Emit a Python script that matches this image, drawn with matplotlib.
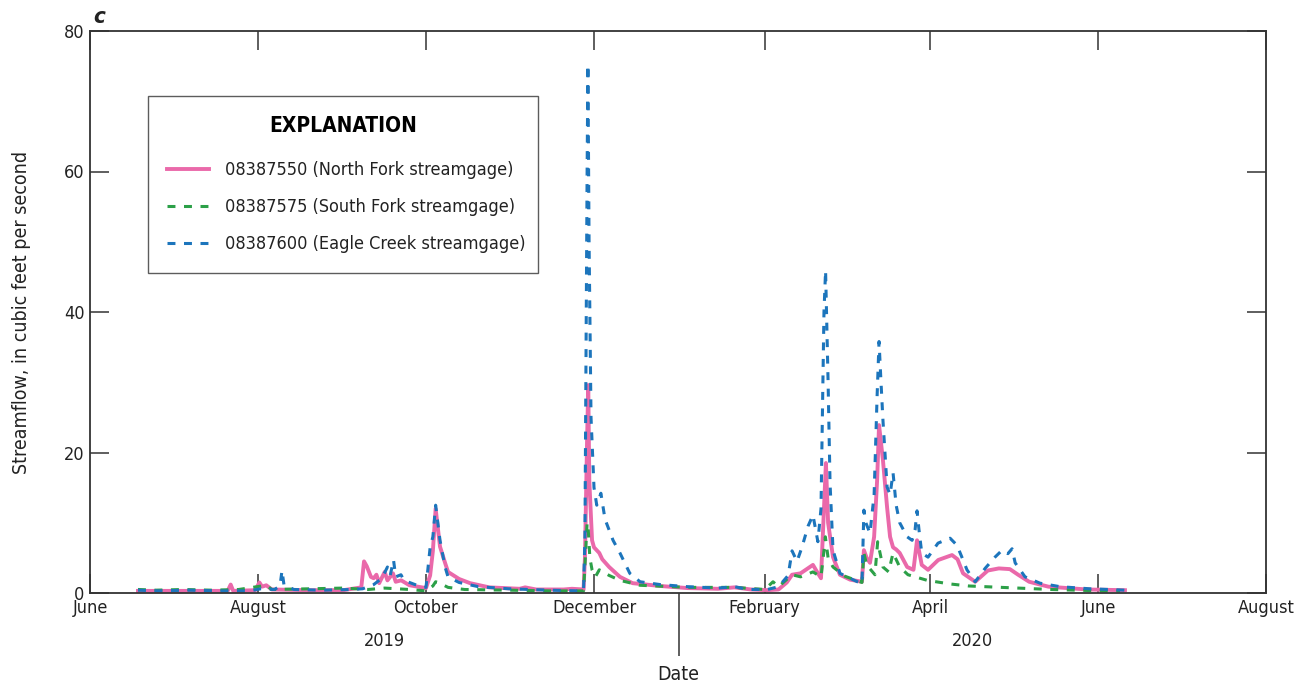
import numpy as np
import pandas as pd
import matplotlib
matplotlib.use("Agg")
import matplotlib.pyplot as plt

plt.rcParams['font.family'] = ['DejaVu Sans']
plt.rcParams['font.stretch'] = 'condensed'

# North Fork streamgage 08387550
north_dates = ["2019-06-18 10:00", "2019-06-30", "2019-07-12", "2019-07-21", "2019-07-22 02:00", "2019-07-23",
               "2019-07-31", "2019-08-01 12:00", "2019-08-02 12:00", "2019-08-04", "2019-08-06", "2019-08-20",
               "2019-09-01", "2019-09-07 12:00", "2019-09-08 12:00", "2019-09-09 12:00", "2019-09-11", "2019-09-12",
               "2019-09-13", "2019-09-14", "2019-09-16", "2019-09-17", "2019-09-19", "2019-09-20", "2019-09-22",
               "2019-09-25", "2019-10-01", "2019-10-02 12:00", "2019-10-03 12:00", "2019-10-04 12:00",
               "2019-10-06 02:00", "2019-10-07 22:00", "2019-10-09", "2019-10-13", "2019-10-17", "2019-10-24",
               "2019-11-04", "2019-11-06", "2019-11-10", "2019-11-20", "2019-11-23", "2019-11-27 05:00",
               "2019-11-27 17:00", "2019-11-28 12:00", "2019-11-28 22:00", "2019-11-29 07:00", "2019-11-30 07:00",
               "2019-12-01", "2019-12-02 22:00", "2019-12-04", "2019-12-06 12:00", "2019-12-10 10:00", "2019-12-15",
               "2019-12-25", "2020-01-04", "2020-01-15", "2020-01-21", "2020-01-27", "2020-02-02", "2020-02-06",
               "2020-02-09", "2020-02-10 22:00", "2020-02-14", "2020-02-17", "2020-02-18 12:00", "2020-02-20",
               "2020-02-21 10:00", "2020-02-22 12:00", "2020-02-23 05:00", "2020-02-24", "2020-02-25 19:00",
               "2020-02-28 07:00", "2020-03-03", "2020-03-07 07:00", "2020-03-08", "2020-03-09", "2020-03-10 05:00",
               "2020-03-11 17:00", "2020-03-12 19:00", "2020-03-13 12:00", "2020-03-14 22:00", "2020-03-16 10:00",
               "2020-03-17 12:00", "2020-03-18 14:00", "2020-03-19 17:00", "2020-03-21", "2020-03-23 17:00",
               "2020-03-26", "2020-03-27 07:00", "2020-03-29", "2020-03-31 07:00", "2020-04-04", "2020-04-09",
               "2020-04-11", "2020-04-13", "2020-04-17 10:00", "2020-04-22", "2020-04-26", "2020-04-30",
               "2020-05-03", "2020-05-07", "2020-05-14", "2020-05-28", "2020-06-10 19:00"]
north_cfs = [0.3, 0.3, 0.3, 0.3, 1.2, 0.3,
             0.4, 1.5, 0.9, 1.1, 0.5, 0.4,
             0.4, 0.8, 4.5, 3.8, 2.3, 2.1,
             2.6, 1.4, 3.0, 1.8, 2.8, 1.6, 1.8,
             1.1, 0.7, 2.5, 6.0, 12.0,
             6.6, 4.3, 3.0, 2.0, 1.4, 0.8,
             0.6, 0.8, 0.5, 0.5, 0.6, 0.5,
             5.0, 22.0, 29.6, 16.0, 7.5,
             6.5, 5.7, 4.8, 3.7, 2.3, 1.4,
             1.0, 0.7, 0.6, 0.8, 0.5, 0.4, 0.5,
             1.5, 2.6, 2.8, 3.6, 4.0, 3.0,
             2.1, 12.0, 18.5, 10.0, 5.1,
             2.6, 1.9, 1.6, 6.1, 5.0, 4.3,
             8.0, 16.0, 23.9, 18.9, 12.2,
             8.0, 6.5, 6.2, 5.7, 3.7,
             3.3, 7.5, 4.0, 3.3, 4.7, 5.4,
             4.8, 2.8, 1.6, 3.2, 3.5, 3.4,
             2.6, 1.6, 0.9, 0.5, 0.4]

# South Fork streamgage 08387575
south_dates = ["2019-06-18 10:00", "2019-06-25", "2019-07-05", "2019-07-15", "2019-07-25", "2019-08-04",
               "2019-08-06", "2019-08-20", "2019-09-01", "2019-09-10", "2019-09-16", "2019-09-25", "2019-10-01",
               "2019-10-03 12:00", "2019-10-04 12:00", "2019-10-06", "2019-10-09", "2019-10-15", "2019-11-01",
               "2019-11-15", "2019-11-27 05:00", "2019-11-27 17:00", "2019-11-28 12:00", "2019-11-28 22:00",
               "2019-11-29 12:00", "2019-11-30 07:00", "2019-12-01 12:00", "2019-12-02 22:00", "2019-12-06 12:00",
               "2019-12-10 10:00", "2019-12-17 17:00", "2020-01-04", "2020-01-21", "2020-02-01", "2020-02-04",
               "2020-02-06", "2020-02-10 22:00", "2020-02-14", "2020-02-18 12:00", "2020-02-21 10:00",
               "2020-02-22 12:00", "2020-02-23", "2020-02-24", "2020-02-25 19:00", "2020-03-01", "2020-03-07 07:00",
               "2020-03-08", "2020-03-09", "2020-03-12", "2020-03-13", "2020-03-14 22:00", "2020-03-17",
               "2020-03-18 14:00", "2020-03-21", "2020-03-24", "2020-03-31", "2020-04-08", "2020-04-15",
               "2020-04-27", "2020-05-15", "2020-06-03", "2020-06-09"]
south_cfs = [0.5, 0.4, 0.5, 0.4, 0.5, 1.1,
             0.5, 0.6, 0.7, 0.5, 0.7, 0.5, 0.3,
             1.0, 1.6, 1.4, 0.8, 0.5, 0.4,
             0.3, 0.3, 4.0, 10.0, 9.0,
             5.0, 3.3, 2.3, 3.3, 2.5,
             1.8, 1.1, 0.8, 0.8, 0.5, 1.6,
             0.9, 2.6, 2.3, 3.0, 2.3,
             6.0, 8.0, 5.0, 3.7, 2.4, 1.5,
             5.7, 4.0, 2.6, 7.3, 3.7, 3.0,
             5.7, 3.7, 2.6, 1.8, 1.3, 1.0,
             0.8, 0.5, 0.3, 0.3]

# Eagle Creek streamgage 08387600
eagle_dates = ["2019-06-18 10:00", "2019-06-26", "2019-07-07", "2019-07-18", "2019-07-29", "2019-08-02",
               "2019-08-07", "2019-08-09", "2019-08-09 17:00", "2019-08-10 10:00", "2019-08-14", "2019-08-24",
               "2019-09-04", "2019-09-08", "2019-09-12", "2019-09-15", "2019-09-17", "2019-09-18",
               "2019-09-19 05:00", "2019-09-20", "2019-09-21 22:00", "2019-09-23", "2019-09-27", "2019-10-01",
               "2019-10-02 12:00", "2019-10-03 12:00", "2019-10-04 12:00", "2019-10-06 02:00", "2019-10-07 22:00",
               "2019-10-09", "2019-10-13", "2019-10-20", "2019-10-31", "2019-11-15", "2019-11-26",
               "2019-11-27 05:00", "2019-11-27 17:00", "2019-11-28 12:00", "2019-11-28 19:00", "2019-11-29 05:00",
               "2019-11-29 22:00", "2019-12-01", "2019-12-02", "2019-12-03 12:00", "2019-12-05", "2019-12-07 22:00",
               "2019-12-10 10:00", "2019-12-14", "2019-12-17 17:00", "2019-12-25", "2020-01-04", "2020-01-15",
               "2020-01-21", "2020-01-26", "2020-02-02", "2020-02-06", "2020-02-09 12:00", "2020-02-10 22:00",
               "2020-02-12 17:00", "2020-02-14 12:00", "2020-02-16 17:00", "2020-02-18 12:00", "2020-02-20 07:00",
               "2020-02-21 10:00", "2020-02-22 12:00", "2020-02-23 02:00", "2020-02-24", "2020-02-24 17:00",
               "2020-02-25 19:00", "2020-02-28 07:00", "2020-03-04", "2020-03-07 07:00", "2020-03-08",
               "2020-03-08 17:00", "2020-03-10 05:00", "2020-03-11 17:00", "2020-03-12 19:00", "2020-03-13 12:00",
               "2020-03-14 05:00", "2020-03-14 22:00", "2020-03-16 10:00", "2020-03-17 12:00", "2020-03-18 14:00",
               "2020-03-19 17:00", "2020-03-21", "2020-03-23 17:00", "2020-03-25 12:00", "2020-03-26 14:00",
               "2020-03-27 07:00", "2020-03-28", "2020-03-29", "2020-03-31 07:00", "2020-04-03 22:00",
               "2020-04-08 07:00", "2020-04-10 19:00", "2020-04-13", "2020-04-14 10:00", "2020-04-17 10:00",
               "2020-04-21", "2020-04-24 14:00", "2020-04-27 05:00", "2020-04-29 07:00", "2020-04-30 19:00",
               "2020-05-01 22:00", "2020-05-05 12:00", "2020-05-10 22:00", "2020-05-18 05:00", "2020-05-29",
               "2020-06-05", "2020-06-10 19:00"]
eagle_cfs = [0.4, 0.3, 0.4, 0.3, 0.3, 0.6,
             0.5, 1.0, 3.2, 1.2, 0.5, 0.4,
             0.5, 0.6, 1.2, 2.1, 3.7, 2.5,
             4.7, 2.3, 2.6, 1.8, 1.2, 0.8,
             6.5, 8.0, 12.5, 7.5, 3.7,
             2.3, 1.5, 0.9, 0.6, 0.4, 0.3,
             0.4, 8.0, 60.0, 75.2, 50.0,
             25.0, 15.0, 12.5, 14.2, 10.5, 7.5,
             5.7, 2.8, 1.6, 1.2, 0.9, 0.7,
             0.9, 0.5, 0.5, 0.9, 2.5, 6.0,
             4.5, 6.5, 9.5, 11.1, 7.3,
             12.0, 40.0, 45.9, 30.0, 15.6,
             6.1, 2.8, 1.9, 1.3, 11.8,
             10.0, 8.5, 14.0, 28.0, 35.8,
             30.0, 24.6, 15.1, 14.0, 17.1,
             12.5, 10.0, 8.0, 7.5, 9.0,
             11.7, 9.0, 5.7, 5.1, 7.1,
             7.8, 6.8, 4.7, 3.3, 1.6,
             3.5, 5.1, 6.1, 5.6, 6.3,
             4.3, 2.3, 1.4, 0.9, 0.6,
             0.5, 0.4]

series_labels = ["08387550 (North Fork streamgage)",
                 "08387575 (South Fork streamgage)",
                 "08387600 (Eagle Creek streamgage)"]
month_ticks = pd.date_range("2019-06-01", "2020-08-01", freq="2MS")
years = ["2019", "2020"]
year_bounds = [pd.Timestamp("2019-06-01"), pd.Timestamp("2020-01-01"), pd.Timestamp("2020-08-01")]

pink = "#EA69AA"
green = "#2CA048"
blue = "#1C75BC"
dark = "#333333"


def to_time(dates):
    return pd.to_datetime(dates, format="ISO8601")


fig = plt.figure(figsize=(13.12, 6.89), dpi=100)
ax = fig.add_axes([90 / 1312, 1 - 593 / 689, 1176 / 1312, 562 / 689])

ax.plot(to_time(north_dates), north_cfs, color=pink, lw=2.8, label=series_labels[0])
ax.plot(to_time(south_dates), south_cfs, color=green, lw=2.2, dashes=(2.6, 2.8), label=series_labels[1])
ax.plot(to_time(eagle_dates), eagle_cfs, color=blue, lw=2.2, dashes=(2.6, 2.8), label=series_labels[2])

ax.set_xlim(month_ticks[0], month_ticks[-1])
ax.set_ylim(0, 80)
ax.set_yticks([0, 20, 40, 60, 80])
ax.set_xticks(month_ticks)
ax.set_xticklabels([d.strftime("%B") for d in month_ticks])
ax.set_xticks([year_bounds[1]], minor=True)
ax.set_xticklabels([""], minor=True)
ax.tick_params(which="major", direction="in", length=14, width=1.1, color=dark,
               top=True, right=True, labelsize=13, labelcolor="#222222", pad=4)
ax.tick_params(which="minor", direction="out", length=45, width=1.1, color=dark,
               top=False, bottom=True, labelbottom=False)
for sp in ax.spines.values():
    sp.set_color(dark)
    sp.set_linewidth(1.3)

# year labels centred below each year's span
for yr, a, b in zip(years, year_bounds[:-1], year_bounds[1:]):
    ax.text(a + (b - a) / 2, -0.085, yr, transform=ax.get_xaxis_transform(),
            ha="center", va="center", fontsize=13, color="#222222")

ax.set_xlabel("Date", fontsize=14, color="#222222")
ax.xaxis.set_label_coords(0.5, -0.128)
ax.set_ylabel("Streamflow, in cubic feet per second", fontsize=14, color="#222222")
ax.yaxis.set_label_coords(-0.050, 0.5)
ax.text(0.003, 1.008, "c", transform=ax.transAxes, fontsize=16, fontweight="bold",
        fontstyle="italic", ha="left", va="bottom", color="#222222")

leg = ax.legend(loc="upper left", bbox_to_anchor=(0.049, 0.578, 0.332, 0.306), mode="expand",
                title="EXPLANATION", title_fontproperties={"weight": "bold", "size": 15},
                fontsize=13, frameon=True, fancybox=False, edgecolor="#333333",
                handlelength=2.3, handletextpad=0.9, labelspacing=1.05, borderpad=1.1,
                borderaxespad=0)
leg.get_frame().set_linewidth(1.0)
leg._legend_box.sep = 18
for t in leg.get_texts():
    t.set_color("#222222")

fig.savefig("out.png", dpi=100)
